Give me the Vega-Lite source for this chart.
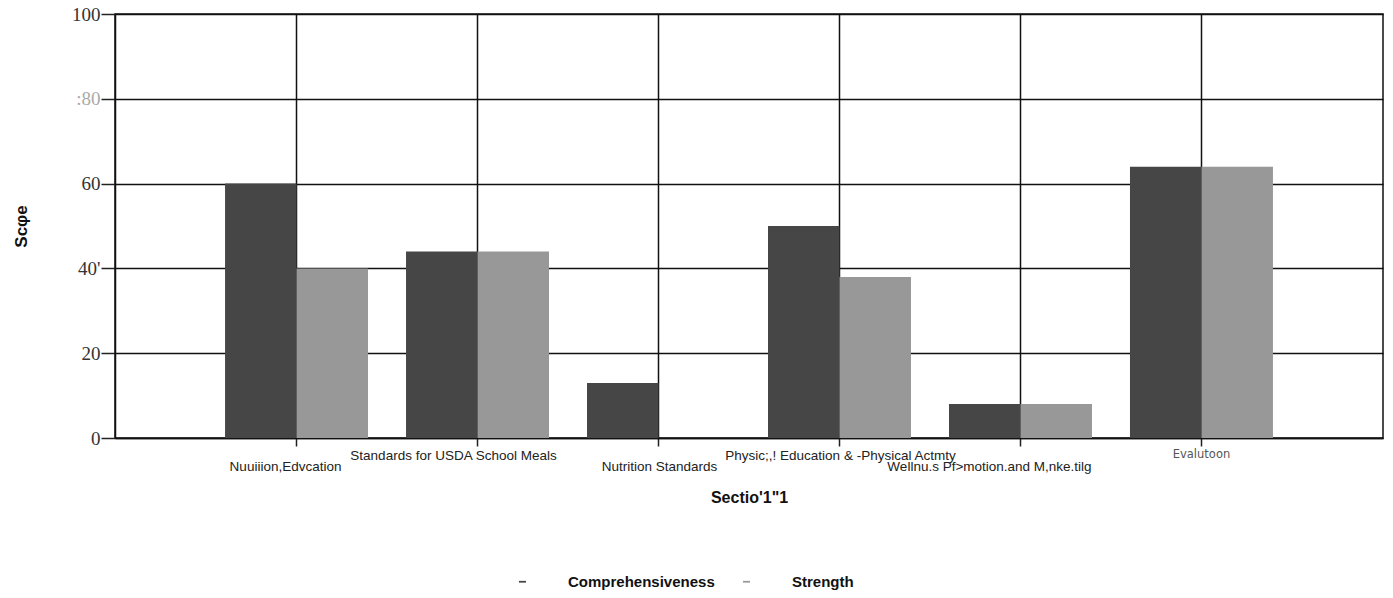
{
  "$schema": "https://vega.github.io/schema/vega-lite/v6.json",
  "width": 1268,
  "height": 424,
  "autosize": "none",
  "padding": {"left": 115, "top": 14, "right": 10, "bottom": 160},
  "background": "white",
  "data": {
    "values": [
      {"section": "Nuuiiion,Edvcation", "series": "Comprehensiveness", "score": 60},
      {"section": "Nuuiiion,Edvcation", "series": "Strength", "score": 40},
      {"section": "Standards for USDA School Meals", "series": "Comprehensiveness", "score": 44},
      {"section": "Standards for USDA School Meals", "series": "Strength", "score": 44},
      {"section": "Nutrition  Standards", "series": "Comprehensiveness", "score": 13},
      {"section": "Nutrition  Standards", "series": "Strength", "score": 0},
      {"section": "Physic;,! Education & -Physical Actmty", "series": "Comprehensiveness", "score": 50},
      {"section": "Physic;,! Education & -Physical Actmty", "series": "Strength", "score": 38},
      {"section": "Wellnu.s Pf>motion.and  M,nke.tilg", "series": "Comprehensiveness", "score": 8},
      {"section": "Wellnu.s Pf>motion.and  M,nke.tilg", "series": "Strength", "score": 8},
      {"section": "Evalutoon", "series": "Comprehensiveness", "score": 64},
      {"section": "Evalutoon", "series": "Strength", "score": 64}
    ]
  },
  "mark": {"type": "bar"},
  "encoding": {
    "x": {
      "field": "section",
      "type": "nominal",
      "sort": null,
      "scale": {"paddingInner": 0.21, "paddingOuter": 0.608},
      "axis": {
        "title": "Sectio'1\"1",
        "titleFont": "Liberation Sans",
        "titleFontSize": 16,
        "titleFontWeight": "bold",
        "titleColor": "#111",
        "titlePadding": 17,
        "labelAngle": 0,
        "labelFont": {"condition": {"test": "datum.value === 'Evalutoon'", "value": "DejaVu Sans"}, "value": "Liberation Sans"},
        "labelFontSize": {"condition": {"test": "datum.value === 'Evalutoon'", "value": 11.5}, "value": 13.5},
        "labelColor": {"condition": {"test": "datum.value === 'Evalutoon'", "value": "#555"}, "value": "#222"},
        "labelOffset": {"expr": "[-11, -24, 1, 1, -31, 0][indexof(domain('x'), datum.value)]"},
        "labelPadding": {"condition": {"test": "indexof(domain('x'), datum.value) % 2 === 0", "value": 13}, "value": 2},
        "labelOverlap": false,
        "labelLimit": 0,
        "tickSize": 8,
        "tickColor": "#222",
        "tickWidth": 1.5,
        "bandPosition": 0.5,
        "grid": true,
        "gridColor": "#111",
        "gridWidth": 1.5,
        "gridOpacity": 1,
        "domainColor": "#111",
        "domainWidth": 1.5
      }
    },
    "xOffset": {"field": "series", "type": "nominal", "scale": {"paddingInner": 0, "paddingOuter": 0}},
    "y": {
      "field": "score",
      "type": "quantitative",
      "scale": {"domain": [0, 100], "nice": false},
      "axis": {
        "title": "Scφe",
        "titleFont": "Liberation Sans",
        "titleFontSize": 17,
        "titleFontWeight": "bold",
        "titleColor": "#111",
        "titlePadding": 41,
        "values": [0, 20, 40, 60, 80, 100],
        "labelExpr": "datum.value === 80 ? ':80' : datum.value === 40 ? \"40'\" : datum.label",
        "labelFont": "Liberation Serif",
        "labelFontSize": 19,
        "labelColor": {"condition": {"test": "datum.value === 80", "value": "#aaa"}, "value": "#333"},
        "labelPadding": 1,
        "tickSize": 14,
        "tickColor": "#222",
        "tickWidth": 1.5,
        "grid": true,
        "gridColor": "#111",
        "gridWidth": 1.5,
        "gridOpacity": 1,
        "domainColor": "#111",
        "domainWidth": 1.5
      }
    },
    "color": {
      "field": "series",
      "type": "nominal",
      "scale": {"domain": ["Comprehensiveness", "Strength"], "range": ["#464646", "#989898"]},
      "legend": {
        "title": null,
        "orient": "none",
        "direction": "horizontal",
        "legendX": 400,
        "legendY": 560,
        "symbolType": "M-1,-0.25H1V0.25H-1Z",
        "symbolSize": 50,
        "labelFont": "Liberation Sans",
        "labelFontSize": 15,
        "labelFontWeight": "bold",
        "labelColor": "#111",
        "labelOffset": 38,
        "columnPadding": 24
      }
    }
  },
  "config": {
    "view": {"stroke": "#111", "strokeWidth": 1.5},
    "font": "Liberation Sans"
  }
}
